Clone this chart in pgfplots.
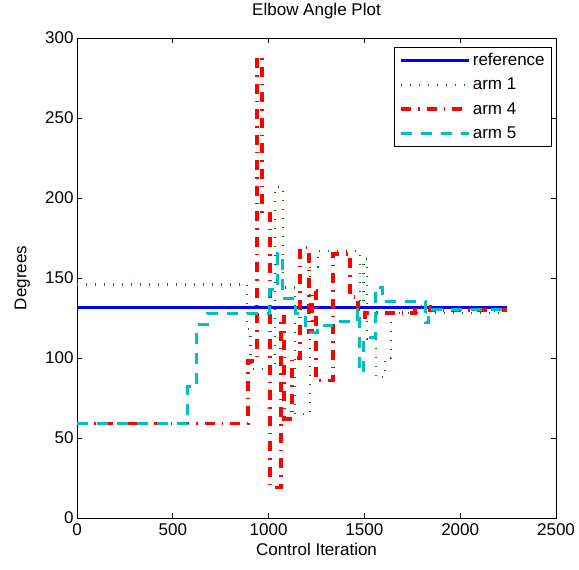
\documentclass[border=0pt]{standalone}
\usepackage{fontspec}
\setmainfont{Liberation Sans}
\usepackage{pgfplots}
\pgfplotsset{compat=1.18}
\definecolor{mgreen}{rgb}{0,0.5,0}
\definecolor{mcyan}{rgb}{0,0.75,0.75}
\newcommand{\fs}{\fontsize{17}{19}\selectfont}
\begin{document}
\begin{tikzpicture}
\begin{axis}[
  scale only axis, width=479pt, height=480pt,
  xmin=0, xmax=2500, ymin=0, ymax=300,
  xtick={0,500,...,2500}, ytick={0,50,...,300},
  tick pos=both, tick align=inside, major tick length=5pt,
  axis line style={line width=0.7pt},
  every tick/.style={black, line width=0.7pt},
  /pgf/number format/assume math mode=true,
  /pgf/number format/1000 sep={},
  scaled ticks=false,
  ticklabel style={font=\fs},
  xticklabel style={yshift=-2pt},
  title={Elbow Angle Plot},
  title style={at={(axis description cs:0.5,1.044)}, anchor=center, font=\fs},
  xlabel={Control Iteration},
  xlabel style={at={(axis description cs:0.5,-0.066)}, anchor=center, font=\fs},
  ylabel={Degrees},
  ylabel style={at={(axis description cs:-0.114,0.5)}, anchor=center, font=\fs},
  legend style={at={(axis description cs:0.9916,0.981)}, anchor=north east,
    draw=black, line width=0.6pt, font=\fs, inner xsep=5pt, inner ysep=4pt,
    row sep=7pt, cells={anchor=west}},
  legend image code/.code={\draw[#1, line cap=butt] (0pt,0pt) -- (68pt,0pt);},
]
\coordinate (ll) at (rel axis cs:0,0);
\coordinate (ur) at (rel axis cs:1,1);
\addplot[blue, line width=3pt, no marks] coordinates {(0,131.5) (2245,131.5)};
\addlegendentry{reference}
\addplot[mgreen, line width=2.4pt, no marks, line cap=butt, dash pattern=on 1pt off 8pt] coordinates {
(0,146)(887,146)(887,118)(905,118)(905,93)(1034,93)(1034,207)(1075,207)(1075,144)(1138,144)(1138,65)(1216,65)(1216,157)(1258,157)(1258,167)(1477,167)(1477,134)(1495,134)(1495,162)(1514,162)(1514,112)(1561,112)(1561,88)(1608,88)(1608,100)(1639,100)(1639,128)(2245,128)};
\addlegendentry{arm 1}
\addplot[red, line width=3.5pt, no marks, line cap=butt, dash pattern=on 10pt off 7pt on 1.5pt off 7pt] coordinates {
(0,59)(893,59)(893,98)(940,98)(940,288)(966,288)(966,190)(1007,190)(1007,19)(1065,19)(1065,126)(1081,126)(1081,62)(1122,62)(1122,100)(1164,100)(1164,169)(1211,169)(1211,116)(1230,116)(1230,142)(1248,142)(1248,86)(1336,86)(1336,165)(1425,165)(1425,138)(1467,138)(1467,124)(1503,124)(1503,128)(1764,128)(1764,132)(1843,132)(1843,130)(2245,130)};
\addlegendentry{arm 4}
\addplot[mcyan, line width=3pt, no marks, line cap=butt, dash pattern=on 11pt off 9pt] coordinates {
(0,59)(579,59)(579,82)(626,82)(626,121)(679,121)(679,128)(1007,128)(1007,143)(1049,143)(1049,165)(1070,165)(1070,137)(1138,137)(1138,128)(1190,128)(1190,116)(1253,116)(1253,120)(1330,120)(1330,122.5)(1462,122.5)(1462,130)(1477,130)(1477,91)(1495,91)(1495,113)(1556,113)(1556,144)(1595,144)(1595,135)(1817,135)(1817,122)(1835,122)(1835,130)(2245,130)};
\addlegendentry{arm 5}
\end{axis}
\pgfresetboundingbox
\path[use as bounding box] ([shift={(-77pt,-51pt)}]ll) rectangle ([shift={(23pt,38pt)}]ur);
\end{tikzpicture}
\end{document}
